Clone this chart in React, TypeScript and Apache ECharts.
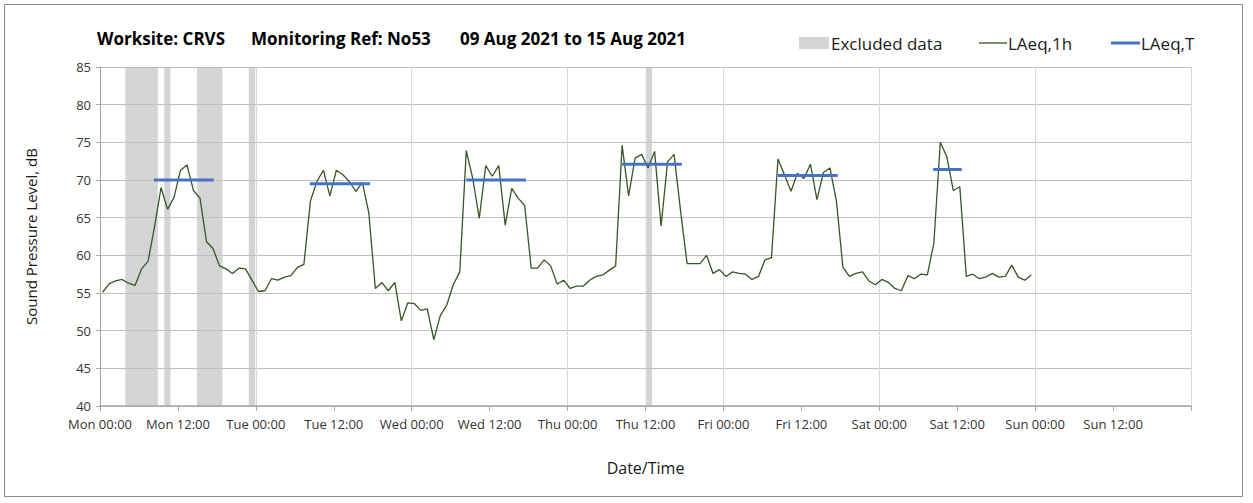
import React, { useEffect, useRef } from "react";
import * as echarts from "echarts";

// ---- Data ----
const dayNames = ["Mon", "Tue", "Wed", "Thu", "Fri", "Sat", "Sun"];
const titleParts = ["Worksite: CRVS", "Monitoring Ref: No53", "09 Aug 2021 to 15 Aug 2021"];
const seriesNames = ["Excluded data", "LAeq,1h", "LAeq,T"];

// hourly LAeq,1h values, Mon 00:00 .. Sat 23:00
const laeq1h = [
  55.1, 56.2, 56.6, 56.8, 56.3, 56.0, 58.2, 59.2, 63.8, 69.0, 66.1, 67.7,
  71.3, 72.0, 68.6, 67.6, 61.8, 60.9, 58.6, 58.2, 57.6, 58.3, 58.2, 56.7,
  55.2, 55.3, 56.9, 56.7, 57.1, 57.3, 58.4, 58.8, 67.2, 69.8, 71.3, 67.9,
  71.3, 70.7, 69.8, 68.5, 69.7, 65.6, 55.6, 56.4, 55.3, 56.4, 51.3, 53.7,
  53.6, 52.7, 52.9, 48.8, 52.0, 53.4, 56.1, 57.8, 73.9, 70.2, 64.9, 71.9,
  70.5, 71.9, 64.0, 68.9, 67.6, 66.6, 58.3, 58.3, 59.4, 58.6, 56.2, 56.7,
  55.6, 55.9, 55.9, 56.7, 57.2, 57.4, 58.0, 58.6, 74.6, 67.9, 72.9, 73.4,
  71.6, 73.8, 63.9, 72.4, 73.4, 65.9, 58.9, 58.9, 58.9, 60.0, 57.6, 58.1,
  57.2, 57.8, 57.6, 57.5, 56.8, 57.2, 59.4, 59.7, 72.8, 70.7, 68.5, 70.9,
  70.2, 72.1, 67.4, 71.0, 71.6, 67.2, 58.4, 57.2, 57.6, 57.8, 56.6, 56.1,
  56.8, 56.4, 55.6, 55.3, 57.3, 56.9, 57.5, 57.4, 61.6, 75.0, 73.1, 68.6,
  69.1, 57.2, 57.5, 56.9, 57.1, 57.6, 57.1, 57.2, 58.7, 57.1, 56.7, 57.4,
];
const hourOffset = 0.4; // plotted position within each hour

// LAeq,T daytime segments (hours from Mon 00:00)
const tStart = [8.3, 32.3, 56.4, 80.4, 104.4, 128.3];
const tEnd = [17.5, 41.6, 65.6, 89.6, 113.6, 132.7];
const tValue = [70.0, 69.5, 70.0, 72.1, 70.6, 71.4];

// Excluded data periods (hours from Mon 00:00)
const bandStart = [3.9, 9.9, 14.95, 22.9, 84.05];
const bandEnd = [8.9, 10.85, 18.85, 23.9, 85.0];

const FONT = "'Open Sans', 'Noto Sans', sans-serif";
const GREEN = "#375623";
const BLUE = "#4472C4";
const BAND = "#d4d4d4";
const TEXT = "#1a1a1a";

export default function App() {
  const ref = useRef<HTMLDivElement>(null);

  useEffect(() => {
    if (!ref.current) return;
    const chart = echarts.init(ref.current, undefined, { renderer: "svg" });

    const yMin = 40;
    const yMax = 85;

    const blueSeries = tStart.map((s, i) => ({
      name: seriesNames[2],
      type: "line",
      data: [
        [s, tValue[i]],
        [tEnd[i], tValue[i]],
      ],
      symbol: "none",
      z: 4,
      lineStyle: { color: BLUE, width: 3, cap: "butt" },
      silent: true,
    }));

    const option: any = {
      animation: false,
      textStyle: { fontFamily: FONT },
      grid: { left: 100, right: 62, top: 67, bottom: 97, containLabel: false },
      xAxis: [
        {
          type: "value",
          min: 0,
          max: 168,
          interval: 12,
          z: 2,
          name: "Date/Time",
          nameLocation: "middle",
          nameGap: 54,
          nameTextStyle: { fontSize: 16, color: TEXT, fontFamily: FONT },
          axisLine: { show: true, lineStyle: { color: "#a6a6a6", width: 1.5 } },
          axisTick: { show: true, length: 5, inside: false, lineStyle: { color: "#a6a6a6" } },
          splitLine: { show: false },
          axisLabel: {
            fontSize: 13,
            color: "#333",
            margin: 11,
            fontFamily: FONT,
            hideOverlap: false,
            formatter: (v: number) =>
              v >= 168 ? "" : `${dayNames[Math.floor(v / 24)]} ${v % 24 === 0 ? "00:00" : "12:00"}`,
          },
        },
        {
          type: "value",
          min: 0,
          max: 168,
          interval: 24,
          z: 2,
          position: "bottom",
          axisLine: { show: false },
          axisTick: { show: false },
          axisLabel: { show: false },
          splitLine: { show: true, lineStyle: { color: "#d9d9d9", width: 1 } },
        },
      ],
      yAxis: {
        type: "value",
        min: yMin,
        max: yMax,
        interval: 5,
        z: 2,
        name: "Sound Pressure Level, dB",
        nameLocation: "middle",
        nameGap: 62,
        nameTextStyle: { fontSize: 15, color: TEXT, fontFamily: FONT },
        axisLine: { show: true, lineStyle: { color: "#a6a6a6", width: 1 } },
        axisTick: { show: true, length: 4, inside: false, lineStyle: { color: "#a6a6a6" } },
        axisLabel: { fontSize: 13, color: "#333", margin: 9, fontFamily: FONT },
        splitLine: { show: true, lineStyle: { color: "#bfbfbf", width: 1 } },
      },
      series: [
        {
          name: seriesNames[0],
          type: "custom",
          z: 1,
          silent: true,
          data: bandStart.map((s, i) => [s, bandEnd[i]]),
          encode: { x: [0, 1] },
          renderItem: (params: any, api: any) => {
            const p0 = api.coord([api.value(0), yMax]);
            const p1 = api.coord([api.value(1), yMin]);
            return {
              type: "rect",
              shape: { x: p0[0], y: p0[1], width: p1[0] - p0[0], height: p1[1] - p0[1] },
              style: { fill: BAND },
            };
          },
        },
        {
          name: seriesNames[1],
          type: "line",
          data: laeq1h.map((v, i) => [i + hourOffset, v]),
          symbol: "none",
          z: 3,
          silent: true,
          lineStyle: { color: GREEN, width: 1.3 },
        },
        ...blueSeries,
      ],
      graphic: [
        {
          type: "rect",
          shape: { x: 4.5, y: 4.5, width: 1238, height: 492 },
          style: { fill: "none", stroke: "#8c8c8c", lineWidth: 1 },
          silent: true,
        },
        {
          type: "text",
          x: 97,
          y: 38,
          style: { text: titleParts[0], font: `bold 17px ${FONT}`, fill: "#000", textVerticalAlign: "middle" },
        },
        {
          type: "text",
          x: 251,
          y: 38,
          style: { text: titleParts[1], font: `bold 17px ${FONT}`, fill: "#000", textVerticalAlign: "middle" },
        },
        {
          type: "text",
          x: 460,
          y: 38,
          style: { text: titleParts[2], font: `bold 17px ${FONT}`, fill: "#000", textVerticalAlign: "middle" },
        },
        // legend
        {
          type: "rect",
          shape: { x: 799, y: 37, width: 30, height: 12 },
          style: { fill: BAND },
        },
        {
          type: "text",
          x: 831,
          y: 43,
          style: { text: seriesNames[0], font: `17px ${FONT}`, fill: TEXT, textVerticalAlign: "middle" },
        },
        {
          type: "line",
          shape: { x1: 979, y1: 43, x2: 1007, y2: 43 },
          style: { stroke: GREEN, lineWidth: 1.3 },
        },
        {
          type: "text",
          x: 1008,
          y: 43,
          style: { text: seriesNames[1], font: `17px ${FONT}`, fill: TEXT, textVerticalAlign: "middle" },
        },
        {
          type: "line",
          shape: { x1: 1111, y1: 43, x2: 1140, y2: 43 },
          style: { stroke: BLUE, lineWidth: 3 },
        },
        {
          type: "text",
          x: 1141,
          y: 43,
          style: { text: seriesNames[2], font: `17px ${FONT}`, fill: TEXT, textVerticalAlign: "middle" },
        },
      ],
    };

    chart.setOption(option);
    return () => chart.dispose();
  }, []);

  return (
    <div
      ref={ref}
      style={{ position: "absolute", left: 0, top: 0, width: 1253, height: 503, background: "#fff" }}
    />
  );
}
